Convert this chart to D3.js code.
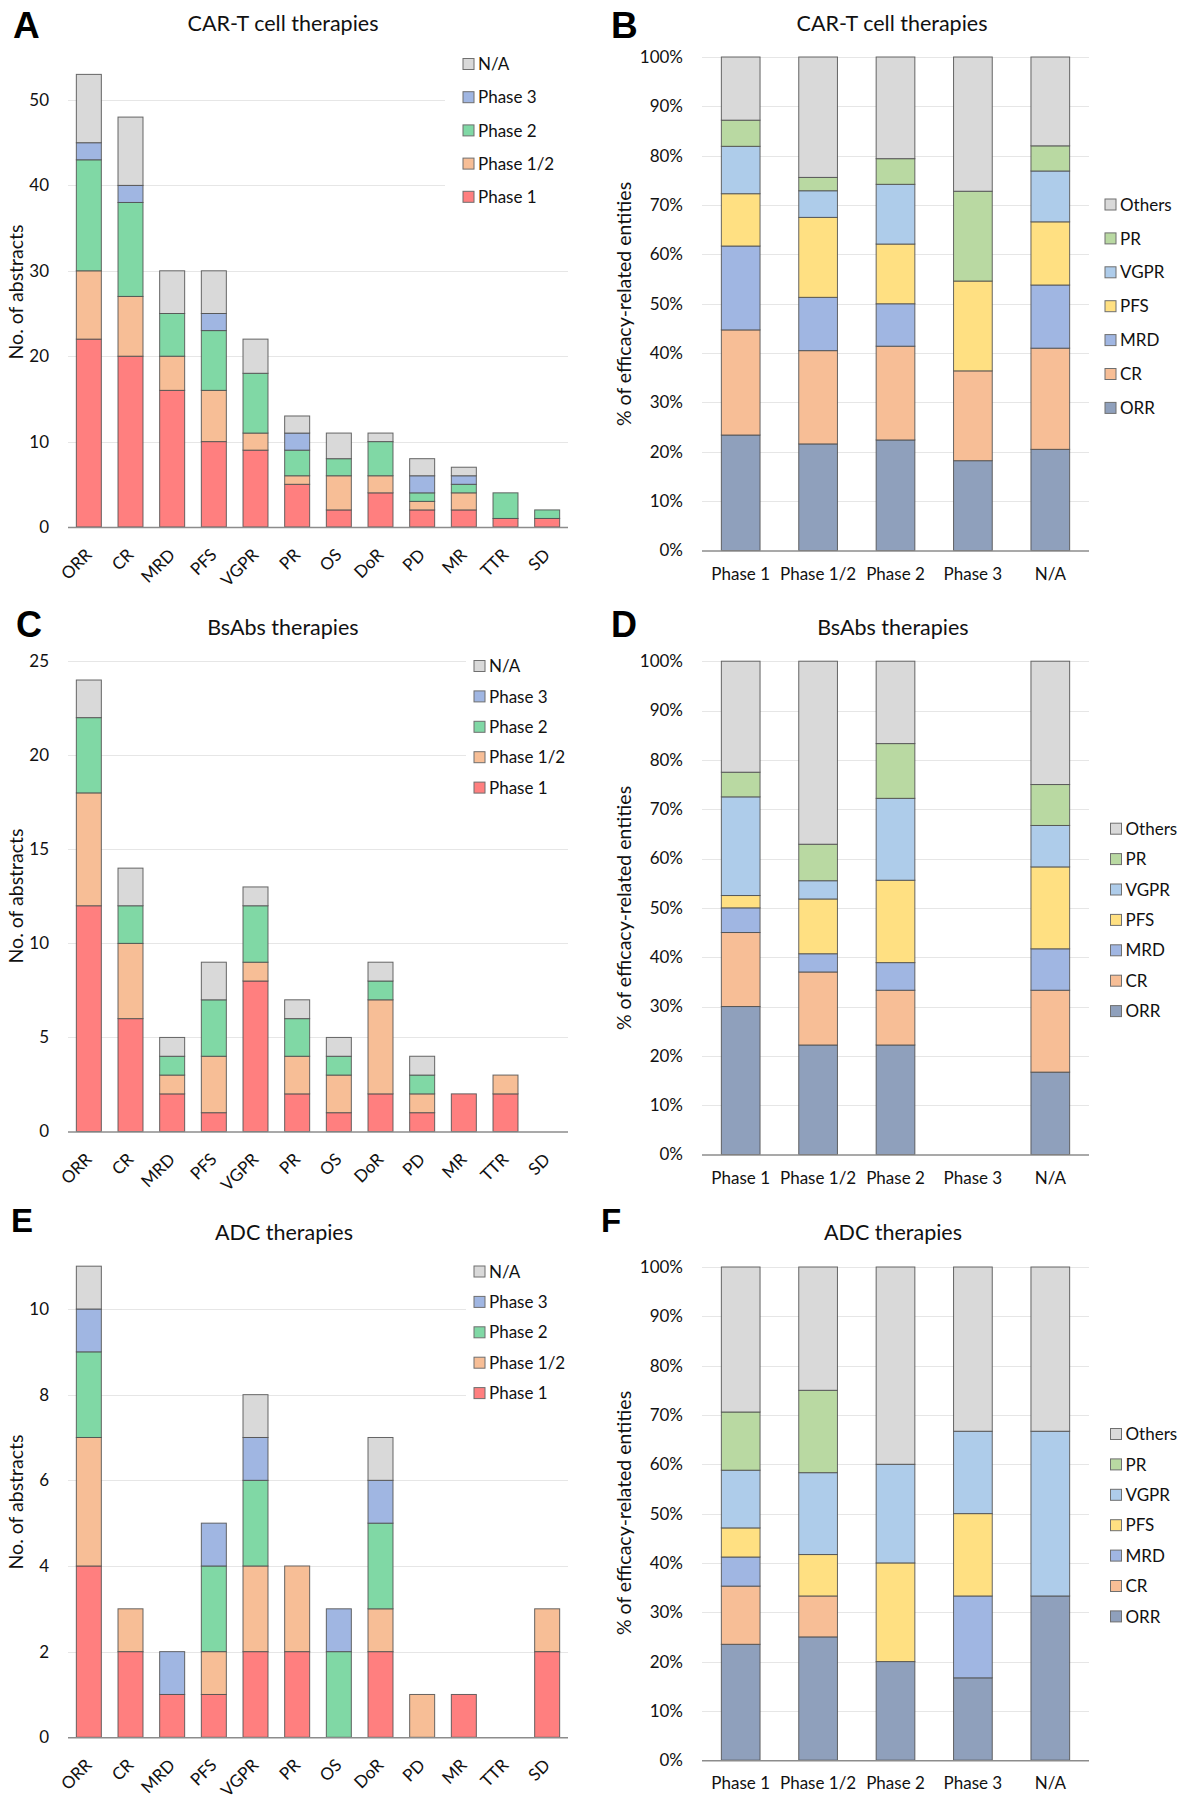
<!DOCTYPE html>
<html>
<head>
<meta charset="utf-8">
<script src="https://cdn.jsdelivr.net/npm/d3@7"></script>
<style>
  html, body { margin: 0; padding: 0; background: #fff; }
  svg { display: block; font-family: Lato, "Open Sans", sans-serif; }
</style>
</head>
<body>
<svg id="chart" width="1185" height="1800"></svg>
<script>
// ---------------- DATA ----------------
const metrics = ["ORR","CR","MRD","PFS","VGPR","PR","OS","DoR","PD","MR","TTR","SD"];
const phases = ["Phase 1","Phase 1/2","Phase 2","Phase 3","N/A"];
const effCats = ["ORR","CR","MRD","PFS","VGPR","PR","Others"];

// Panel A – CAR-T: abstracts per efficacy metric, by phase
const carTPhase1  = [22,20,16,10,9,5,2,4,2,2,1,1];
const carTPhase12 = [8,7,4,6,2,1,4,2,1,2,0,0];
const carTPhase2  = [13,11,5,7,7,3,2,4,1,1,3,1];
const carTPhase3  = [2,2,0,2,0,2,0,0,2,1,0,0];
const carTNA      = [8,8,5,5,4,2,3,1,2,1,0,0];

// Panel C – BsAbs
const bsPhase1  = [12,6,2,1,8,2,1,2,1,2,2,0];
const bsPhase12 = [6,4,1,3,1,2,2,5,1,0,1,0];
const bsPhase2  = [4,2,1,3,3,2,1,1,1,0,0,0];
const bsPhase3  = [0,0,0,0,0,0,0,0,0,0,0,0];
const bsNA      = [2,2,1,2,1,1,1,1,1,0,0,0];

// Panel E – ADC
const adcPhase1  = [4,2,1,1,2,2,0,2,0,1,0,2];
const adcPhase12 = [3,1,0,1,2,2,0,1,1,0,0,1];
const adcPhase2  = [2,0,0,2,2,0,2,2,0,0,0,0];
const adcPhase3  = [1,0,1,1,1,0,1,1,0,0,0,0];
const adcNA      = [1,0,0,0,1,0,0,1,0,0,0,0];

// Panel B – CAR-T: % of efficacy-related entities per phase (ORR, CR, MRD, PFS, VGPR, PR, Others)
const carTPctPhase1  = [23.4,21.3,17.0,10.6,9.6,5.3,12.8];
const carTPctPhase12 = [21.6,18.9,10.8,16.2,5.4,2.7,24.4];
const carTPctPhase2  = [22.4,19.0,8.6,12.1,12.1,5.2,20.6];
const carTPctPhase3  = [18.2,18.2,0,18.2,0,18.2,27.2];
const carTPctNA      = [20.5,20.5,12.8,12.8,10.3,5.1,18.0];

// Panel D – BsAbs %
const bsPctPhase1  = [30.0,15.0,5.0,2.5,20.0,5.0,22.5];
const bsPctPhase12 = [22.2,14.8,3.7,11.1,3.7,7.4,37.1];
const bsPctPhase2  = [22.2,11.1,5.6,16.7,16.6,11.1,16.7];
const bsPctPhase3  = [0,0,0,0,0,0,0];
const bsPctNA      = [16.7,16.6,8.4,16.6,8.4,8.3,25.0];

// Panel F – ADC %
const adcPctPhase1  = [23.5,11.8,5.9,5.9,11.7,11.8,29.4];
const adcPctPhase12 = [25.0,8.3,0,8.4,16.6,16.7,25.0];
const adcPctPhase2  = [20.0,0,0,20.0,20.0,0,40.0];
const adcPctPhase3  = [16.7,0,16.6,16.7,16.7,0,33.3];
const adcPctNA      = [33.3,0,0,0,33.4,0,33.3];

const countTicksA = [0,10,20,30,40,50];
const countTicksC = [0,5,10,15,20,25];
const countTicksE = [0,2,4,6,8,10];
const pctTicks = [0,10,20,30,40,50,60,70,80,90,100];

// ---------------- STYLE ----------------
const phaseColors = {"Phase 1":"#FF7F7F","Phase 1/2":"#F7BE96","Phase 2":"#80D8A5","Phase 3":"#A0B6E2","N/A":"#D9D9D9"};
const effColors = {"ORR":"#8FA0BC","CR":"#F7BE96","MRD":"#A0B6E2","PFS":"#FFE082","VGPR":"#AECCEA","PR":"#B9D9A2","Others":"#D9D9D9"};

const svg = d3.select("#chart");
const FONT = "Lato, 'Open Sans', sans-serif";

function panelLabel(txt, x, y, size) {
  svg.append("text").attr("x", x).attr("y", y).text(txt)
    .attr("font-family", "'Liberation Sans', Arial, sans-serif")
    .attr("font-weight", 700).attr("font-size", size).attr("fill", "#000");
}
function title(txt, cx, y) {
  svg.append("text").attr("x", cx).attr("y", y).attr("text-anchor", "middle")
    .attr("font-size", 21.5).attr("fill", "#111").text(txt);
}

function stackedPanel(cfg) {
  const g = svg.append("g");
  const x = d3.scaleBand().domain(cfg.cats).range([cfg.x0, cfg.x1])
    .paddingInner(cfg.padIn).paddingOuter(cfg.padOut);
  const y = d3.scaleLinear().domain([0, cfg.yMax]).range([cfg.yBase, cfg.yTopPx]);

  // gridlines
  g.append("g").selectAll("line").data(cfg.ticks.filter(t => t > 0)).join("line")
    .attr("x1", cfg.x0).attr("x2", cfg.x1)
    .attr("y1", d => Math.round(y(d)) + 0.5).attr("y2", d => Math.round(y(d)) + 0.5)
    .attr("stroke", "#E6E6E6").attr("stroke-width", 1.2);

  // legend white backing (covers gridlines like the original)
  if (cfg.legendBox) {
    g.append("rect").attr("x", cfg.legendBox[0]).attr("y", cfg.legendBox[1])
      .attr("width", cfg.legendBox[2]).attr("height", cfg.legendBox[3]).attr("fill", "#fff");
  }

  // data rows: series either indexed [key][cat] or [cat][key]
  const rows = cfg.cats.map((c, i) => {
    const r = {cat: c};
    cfg.keys.forEach((k, j) => {
      r[k] = cfg.seriesByCat ? cfg.series[i][j] : cfg.series[j][i];
    });
    return r;
  });
  const stacked = d3.stack().keys(cfg.keys)(rows);
  g.append("g").selectAll("g").data(stacked).join("g")
    .attr("fill", d => cfg.colors[d.key])
    .selectAll("rect").data(d => d.filter(s => s[1] - s[0] > 0)).join("rect")
    .attr("x", d => x(d.data.cat))
    .attr("width", x.bandwidth())
    .attr("y", d => y(d[1]))
    .attr("height", d => y(d[0]) - y(d[1]))
    .attr("stroke", "#4d4d4d").attr("stroke-opacity", 0.85).attr("stroke-width", 1);

  // baseline
  g.append("line").attr("x1", cfg.x0).attr("x2", cfg.x1)
    .attr("y1", cfg.yBase + 0.5).attr("y2", cfg.yBase + 0.5)
    .attr("stroke", "#8C8C8C").attr("stroke-width", 1.6);

  // y axis ticks
  const ya = g.append("g").attr("transform", `translate(${cfg.x0},0)`)
    .call(d3.axisLeft(y).tickValues(cfg.ticks).tickSize(0).tickPadding(19)
      .tickFormat(cfg.tickFmt || (d => d)));
  ya.select(".domain").remove();
  ya.selectAll("text").attr("font-family", FONT).attr("font-size", 17).attr("fill", "#111");

  // x axis labels
  if (cfg.rotate) {
    g.append("g").selectAll("text").data(cfg.cats).join("text")
      .attr("transform", d => `translate(${x(d) + x.bandwidth() / 2 + 4},${cfg.yBase + 29}) rotate(-45)`)
      .attr("text-anchor", "end").attr("font-size", 17).attr("fill", "#111").text(d => d);
  } else {
    g.append("g").selectAll("text").data(cfg.cats).join("text")
      .attr("x", d => x(d) + x.bandwidth() / 2).attr("y", cfg.yBase + 29)
      .attr("text-anchor", "middle").attr("font-size", 17).attr("fill", "#111").text(d => d);
  }

  // y title
  g.append("text").attr("transform", `translate(${cfg.yTitleX},${cfg.yTitleY}) rotate(-90)`)
    .attr("text-anchor", "middle").attr("font-size", 19.5).attr("fill", "#111").text(cfg.yTitle);

  // legend
  const leg = g.append("g");
  const order = cfg.keys.slice().reverse();
  order.forEach((k, i) => {
    const cy = cfg.legY + i * cfg.legStep;
    leg.append("rect").attr("x", cfg.legX).attr("y", cy - 5.5).attr("width", 11).attr("height", 11)
      .attr("fill", cfg.colors[k]).attr("stroke", "#6f6f6f").attr("stroke-width", 1);
    leg.append("text").attr("x", cfg.legX + 15).attr("y", cy).attr("dy", "0.36em")
      .attr("font-size", 17).attr("fill", "#111").text(k);
  });
}

const pctFmt = d => d + "%";

// ---------- Panel A ----------
panelLabel("A", 13, 38, 37);
title("CAR-T cell therapies", 283, 31);
stackedPanel({
  cats: metrics, keys: phases, colors: phaseColors,
  series: [carTPhase1, carTPhase12, carTPhase2, carTPhase3, carTNA],
  x0: 68, x1: 568, padIn: 0.4, padOut: 0.2,
  yMax: 50, yBase: 527, yTopPx: 100, ticks: countTicksA, rotate: true,
  yTitle: "No. of abstracts", yTitleX: 23, yTitleY: 292,
  legendBox: [445, 45, 123, 170], legX: 463, legY: 64, legStep: 33.2
});

// ---------- Panel B ----------
panelLabel("B", 611, 38, 37);
title("CAR-T cell therapies", 892, 31);
stackedPanel({
  cats: phases, keys: effCats, colors: effColors, seriesByCat: true,
  series: [carTPctPhase1, carTPctPhase12, carTPctPhase2, carTPctPhase3, carTPctNA],
  x0: 702, x1: 1089, padIn: 0.5, padOut: 0.25,
  yMax: 100, yBase: 550.5, yTopPx: 57, ticks: pctTicks, tickFmt: pctFmt, rotate: false,
  yTitle: "% of efficacy-related entities", yTitleX: 631, yTitleY: 304,
  legX: 1105, legY: 204.5, legStep: 33.9
});

// ---------- Panel C ----------
panelLabel("C", 16, 637, 36);
title("BsAbs therapies", 283, 635);
stackedPanel({
  cats: metrics, keys: phases, colors: phaseColors,
  series: [bsPhase1, bsPhase12, bsPhase2, bsPhase3, bsNA],
  x0: 68, x1: 568, padIn: 0.4, padOut: 0.2,
  yMax: 25, yBase: 1131.5, yTopPx: 661.2, ticks: countTicksC, rotate: true,
  yTitle: "No. of abstracts", yTitleX: 23, yTitleY: 896,
  legendBox: [466, 650, 102, 150], legX: 474, legY: 666, legStep: 30.4
});

// ---------- Panel D ----------
panelLabel("D", 611, 637, 36);
title("BsAbs therapies", 893, 635);
stackedPanel({
  cats: phases, keys: effCats, colors: effColors, seriesByCat: true,
  series: [bsPctPhase1, bsPctPhase12, bsPctPhase2, bsPctPhase3, bsPctNA],
  x0: 702, x1: 1089, padIn: 0.5, padOut: 0.25,
  yMax: 100, yBase: 1154.5, yTopPx: 661.2, ticks: pctTicks, tickFmt: pctFmt, rotate: false,
  yTitle: "% of efficacy-related entities", yTitleX: 631, yTitleY: 908,
  legX: 1110.5, legY: 828.7, legStep: 30.4
});

// ---------- Panel E ----------
panelLabel("E", 11, 1232, 33);
title("ADC therapies", 284, 1240);
stackedPanel({
  cats: metrics, keys: phases, colors: phaseColors,
  series: [adcPhase1, adcPhase12, adcPhase2, adcPhase3, adcNA],
  x0: 68, x1: 568, padIn: 0.4, padOut: 0.2,
  yMax: 10, yBase: 1737.3, yTopPx: 1309, ticks: countTicksE, rotate: true,
  yTitle: "No. of abstracts", yTitleX: 23, yTitleY: 1502,
  legendBox: [466, 1255, 102, 152], legX: 474, legY: 1271.5, legStep: 30.4
});

// ---------- Panel F ----------
panelLabel("F", 601, 1232, 33);
title("ADC therapies", 893, 1240);
stackedPanel({
  cats: phases, keys: effCats, colors: effColors, seriesByCat: true,
  series: [adcPctPhase1, adcPctPhase12, adcPctPhase2, adcPctPhase3, adcPctNA],
  x0: 702, x1: 1089, padIn: 0.5, padOut: 0.25,
  yMax: 100, yBase: 1760.2, yTopPx: 1267, ticks: pctTicks, tickFmt: pctFmt, rotate: false,
  yTitle: "% of efficacy-related entities", yTitleX: 631, yTitleY: 1513,
  legX: 1110.5, legY: 1434, legStep: 30.4
});
</script>
</body>
</html>
